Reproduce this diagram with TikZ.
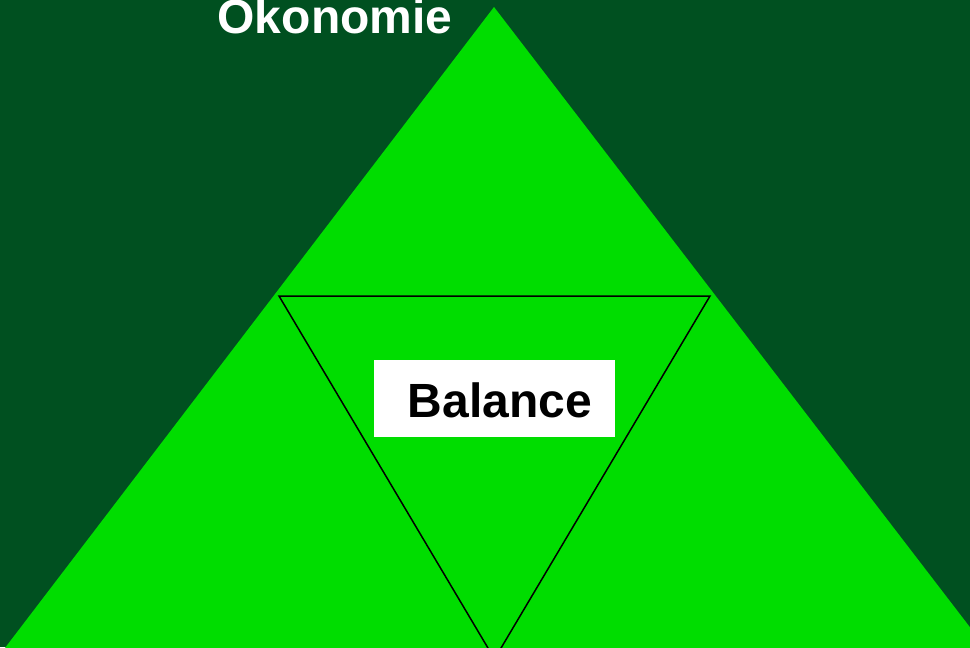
\documentclass[tikz,border=0pt]{standalone}
\usepackage{fontspec}
\setmainfont{Liberation Sans}
\definecolor{bgdark}{RGB}{0,80,32}
\definecolor{brightgreen}{RGB}{0,221,0}
\begin{document}
\begin{tikzpicture}[x=0.75pt,y=-0.75pt,
  bigtext/.style={font=\fontsize{36}{40}\selectfont\bfseries, inner sep=0pt, anchor=base}]
\useasboundingbox (0,0) rectangle (970,647);
\clip (0,0) rectangle (970,647);
\fill[bgdark] (0,0) rectangle (970,647);
% outer triangle
\coordinate (apex) at (494,7);
\coordinate (bl) at (-21,682);
\coordinate (br) at (1012,682);
\fill[brightgreen] (apex) -- (bl) -- (br) -- cycle;
% inner triangle
\coordinate (itl) at (279,296);
\coordinate (itr) at (710,296);
\coordinate (ibot) at (494.5,659);
\draw[black, line width=1.5pt*0.75] (itl) -- (itr) -- (ibot) -- cycle;
% box
\node[fill=white, minimum width=241*0.75pt, minimum height=77*0.75pt, inner sep=0pt] (box) at (494.5,398.5) {};
\node[bigtext, text=black] (bal) at (500,417) {Balance};
\node[bigtext, text=white] (oek) at (335,33) {Ökonomie};
\end{tikzpicture}
\end{document}
